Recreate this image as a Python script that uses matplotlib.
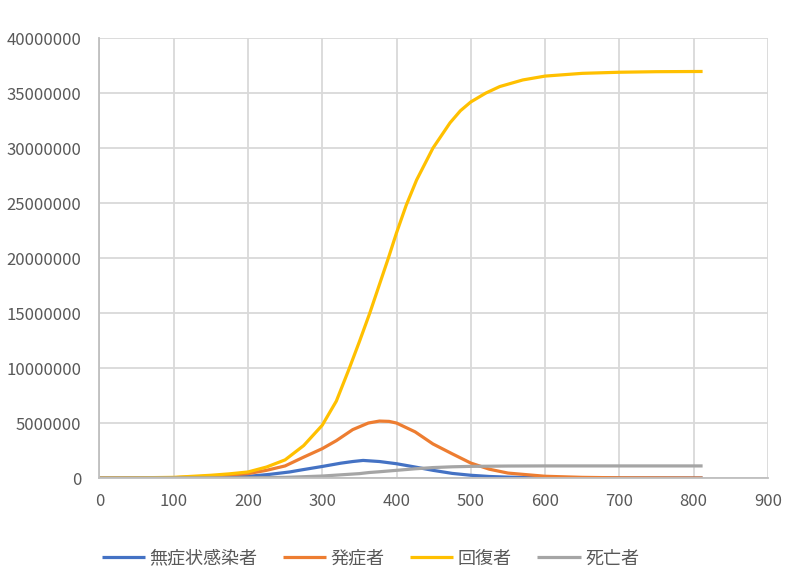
import matplotlib.pyplot as plt

plt.rcParams['font.family'] = ['Noto Sans CJK JP', 'DejaVu Sans']

# values (day, persons)
asym_x = [0, 100, 150, 200, 229, 256, 274, 300, 325, 341, 355, 377, 400, 425, 449, 475, 500, 525,
          550, 600, 650, 700, 812]
asym_y = [0, 10000, 40000, 150000, 330000, 550000, 760000, 1050000, 1350000, 1500000, 1600000,
          1500000, 1300000, 1000000, 700000, 420000, 250000, 140000, 80000, 20000, 8000, 3000, 0]

symp_x = [0, 100, 150, 200, 225, 250, 275, 300, 319, 341, 362, 377, 390, 400, 425, 449, 475, 500,
          525, 550, 600, 650, 700, 812]
symp_y = [0, 30000, 170000, 400000, 700000, 1100000, 1900000, 2670000, 3400000, 4400000, 5000000,
          5180000, 5150000, 5000000, 4200000, 3100000, 2200000, 1360000, 800000, 450000, 160000,
          60000, 20000, 0]

recov_x = [0, 50, 100, 150, 175, 200, 225, 250, 275, 300, 319, 336, 350, 364, 376, 389, 400, 413,
           427, 449, 472, 486, 500, 520, 539, 570, 600, 650, 700, 750, 812]
recov_y = [0, 20000, 60000, 250000, 380000, 550000, 1000000, 1650000, 2950000, 4800000, 7000000,
           9900000, 12400000, 15000000, 17400000, 20000000, 22300000, 24800000, 27100000, 30000000,
           32300000, 33400000, 34200000, 35000000, 35600000, 36200000, 36550000, 36800000, 36900000,
           36950000, 36970000]

dead_x = [0, 200, 250, 300, 350, 363, 377, 400, 425, 449, 475, 500, 550, 600, 700, 812]
dead_y = [0, 20000, 60000, 180000, 400000, 500000, 570000, 700000, 840000, 950000, 1020000,
          1060000, 1090000, 1100000, 1100000, 1100000]

labels = ['無症状感染者', '発症者', '回復者', '死亡者']
colors = ['#4472C4', '#ED7D31', '#FFC000', '#A5A5A5']

fig = plt.figure(figsize=(7.95, 5.79), dpi=100)
ax = fig.add_axes([0.125, 0.1744, 0.841, 0.7597])

series = [(asym_x, asym_y), (symp_x, symp_y), (recov_x, recov_y), (dead_x, dead_y)]
for (xs, ys), lab, c in zip(series, labels, colors):
    ax.plot(xs, ys, color=c, lw=2.3, label=lab, solid_capstyle='butt', solid_joinstyle='round')

ax.set_xlim(0, 900)
ax.set_ylim(0, 40000000)
ax.set_xticks(range(0, 901, 100))
ax.set_yticks(range(0, 40000001, 5000000))
ax.set_yticklabels([str(v) for v in range(0, 40000001, 5000000)])
ax.grid(True, color='#d9d9d9', lw=1.3)
ax.set_axisbelow(True)
for s in ['top', 'right']:
    ax.spines[s].set_visible(False)
for s in ['left', 'bottom']:
    ax.spines[s].set_color('#bfbfbf')
    ax.spines[s].set_linewidth(1.3)
ax.tick_params(length=0, labelsize=12, labelcolor='#595959')
ax.tick_params(axis='y', pad=13)
ax.tick_params(axis='x', pad=11)

fig.legend(loc='center', bbox_to_anchor=(0.466, 0.035), ncol=4, frameon=False,
           fontsize=13, labelcolor='#595959', handlelength=2.4, columnspacing=1.4,
           handletextpad=0.25)

fig.savefig('out.png', dpi=100)
